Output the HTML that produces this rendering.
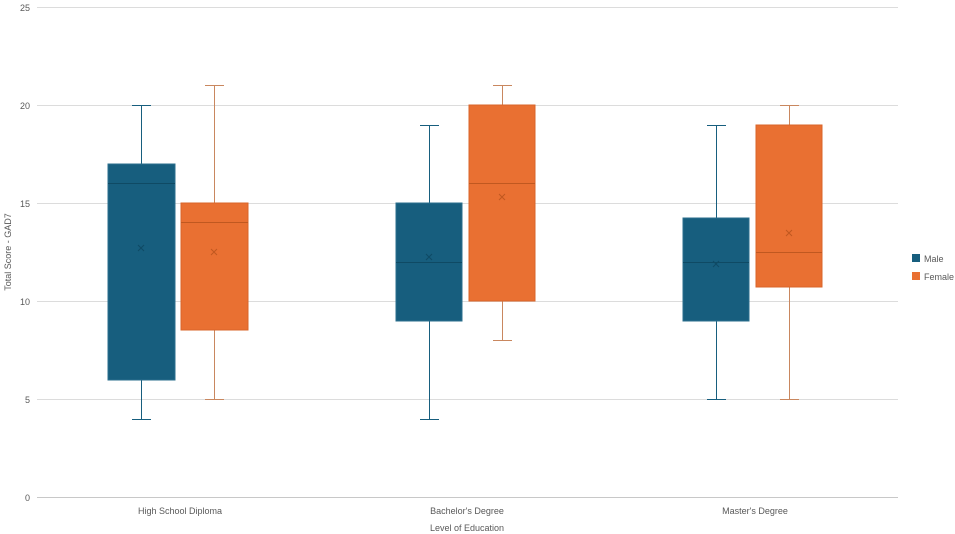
<!DOCTYPE html>
<html><head><meta charset="utf-8"><style>body{margin:0;background:#fff}svg{display:block;font-family:"Liberation Sans",sans-serif}</style></head><body>
<svg width="955" height="534" xmlns="http://www.w3.org/2000/svg">
<g stroke="#dcdcdc" stroke-width="1">
<line x1="37" y1="7.5" x2="898" y2="7.5"/><line x1="37" y1="105.5" x2="898" y2="105.5"/><line x1="37" y1="203.5" x2="898" y2="203.5"/><line x1="37" y1="301.5" x2="898" y2="301.5"/><line x1="37" y1="399.5" x2="898" y2="399.5"/>
<line x1="37" y1="497.5" x2="898" y2="497.5" stroke="#c8c8c8"/>
</g>
<g font-size="9" fill="#595959" text-anchor="end">
<text x="30" y="11">25</text><text x="30" y="109">20</text><text x="30" y="207">15</text><text x="30" y="305">10</text><text x="30" y="403">5</text><text x="30" y="501">0</text>
</g>
<g font-size="9" fill="#595959" text-anchor="middle">
<text x="180" y="514">High School Diploma</text><text x="467" y="514">Bachelor's Degree</text><text x="755" y="514">Master's Degree</text>
<text x="467" y="531">Level of Education</text>
<text transform="translate(11,252) rotate(-90)">Total Score - GAD7</text>
</g>
<!-- male -->
<g stroke="#175e7e" fill="none">
<line x1="141.5" y1="105" x2="141.5" y2="419"/><line x1="132" y1="105.5" x2="151" y2="105.5"/><line x1="132" y1="419.5" x2="151" y2="419.5"/>
<line x1="429.5" y1="125" x2="429.5" y2="419"/><line x1="420" y1="125.5" x2="439" y2="125.5"/><line x1="420" y1="419.5" x2="439" y2="419.5"/>
<line x1="716.5" y1="125" x2="716.5" y2="399"/><line x1="707" y1="125.5" x2="726" y2="125.5"/><line x1="707" y1="399.5" x2="726" y2="399.5"/>
</g>
<g fill="#175e7e" stroke="#2b6f8d">
<rect x="108" y="164" width="67" height="216"/><rect x="396" y="203" width="66" height="118"/><rect x="683" y="218" width="66" height="103"/>
</g>
<g stroke="#0f4a64">
<line x1="108" y1="183.5" x2="175" y2="183.5"/><line x1="396" y1="262.5" x2="462" y2="262.5"/><line x1="683" y1="262.5" x2="749" y2="262.5"/>
<path d="M138 245l6 6M144 245l-6 6M426 254l6 6M432 254l-6 6M713 261l6 6M719 261l-6 6"/>
</g>
<!-- female -->
<g stroke="#c9875f" fill="none">
<line x1="214.5" y1="85" x2="214.5" y2="399"/><line x1="205" y1="85.5" x2="224" y2="85.5"/><line x1="205" y1="399.5" x2="224" y2="399.5"/>
<line x1="502.5" y1="85" x2="502.5" y2="340"/><line x1="493" y1="85.5" x2="512" y2="85.5"/><line x1="493" y1="340.5" x2="512" y2="340.5"/>
<line x1="789.5" y1="105" x2="789.5" y2="399"/><line x1="780" y1="105.5" x2="799" y2="105.5"/><line x1="780" y1="399.5" x2="799" y2="399.5"/>
</g>
<g fill="#e97032" stroke="#d9642a">
<rect x="181" y="203" width="67" height="127"/><rect x="469" y="105" width="66" height="196"/><rect x="756" y="125" width="66" height="162"/>
</g>
<g stroke="#c05820">
<line x1="181" y1="222.5" x2="248" y2="222.5"/><line x1="469" y1="183.5" x2="535" y2="183.5"/><line x1="756" y1="252.5" x2="822" y2="252.5"/>
<path d="M211 249l6 6M217 249l-6 6M499 194l6 6M505 194l-6 6M786 230l6 6M792 230l-6 6"/>
</g>
<rect x="912" y="254" width="8" height="8" fill="#175e7e"/><text x="924" y="262" font-size="9" fill="#595959">Male</text>
<rect x="912" y="272" width="8" height="8" fill="#e97032"/><text x="924" y="280" font-size="9" fill="#595959">Female</text>
</svg>
</body></html>
